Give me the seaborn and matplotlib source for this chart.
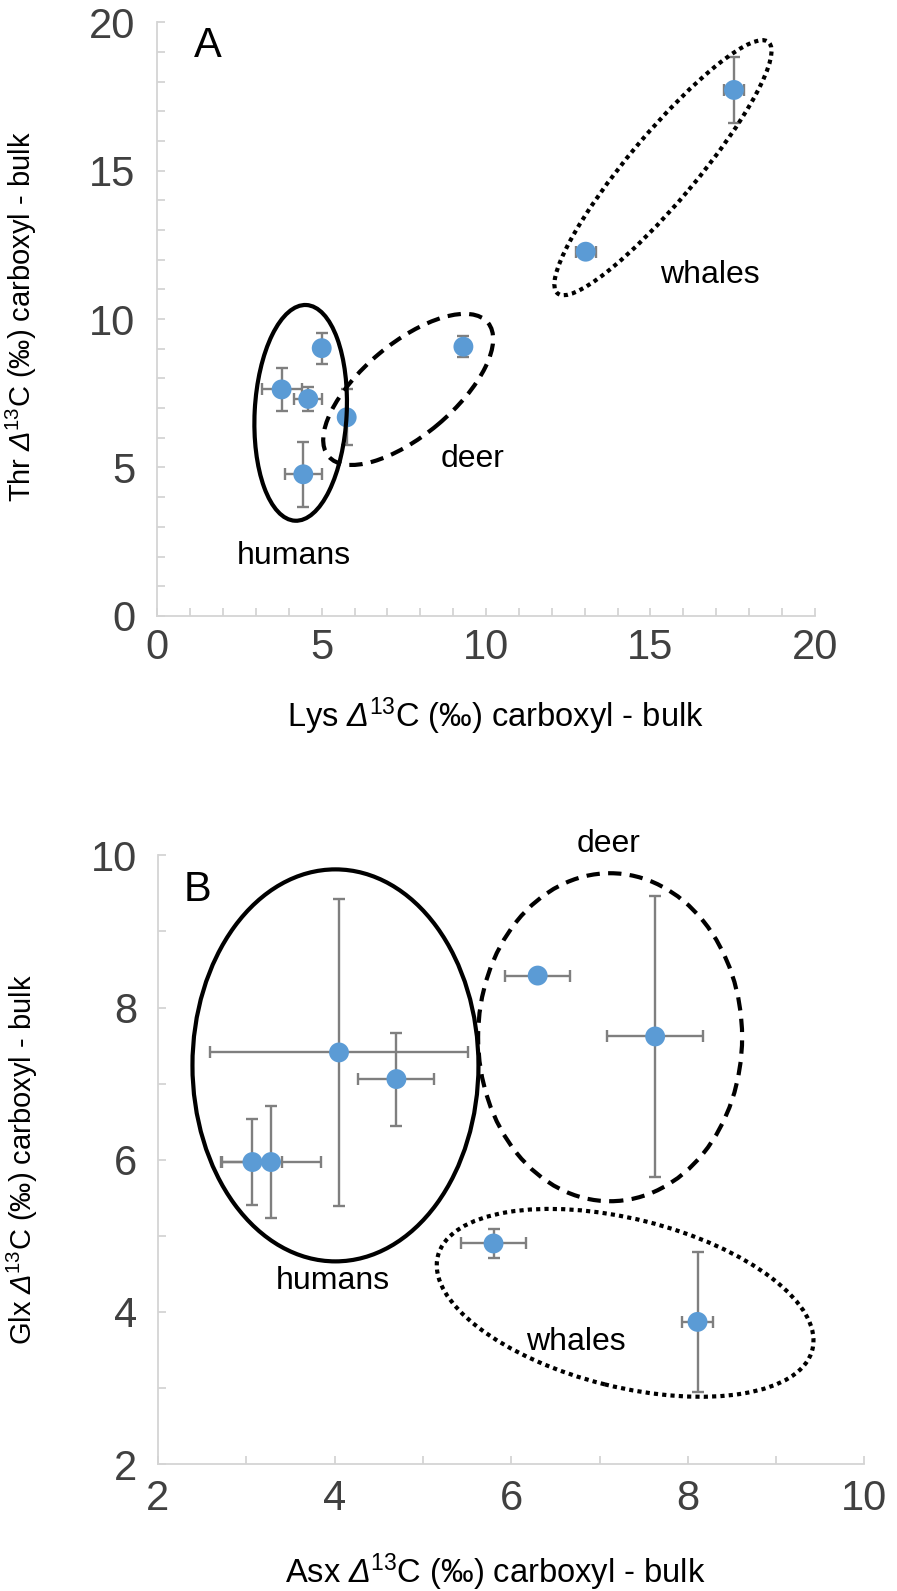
import numpy as np
import pandas as pd
import matplotlib
matplotlib.use("Agg")
import matplotlib.pyplot as plt
import seaborn as sns
from matplotlib.patches import Ellipse
from matplotlib.transforms import ScaledTranslation

# ---- Panel A: Lys vs Thr (carboxyl - bulk, permil) ----
a_group = ["humans", "humans", "humans", "humans", "deer", "deer", "whales", "whales"]
a_lys = [3.78, 4.59, 5.00, 4.44, 5.76, 9.31, 13.03, 17.54]
a_thr = [7.63, 7.31, 9.02, 4.77, 6.69, 9.07, 12.27, 17.72]
a_lys_err = [0.61, 0.42, 0.0, 0.56, 0.0, 0.0, 0.30, 0.30]
a_thr_err = [0.72, 0.40, 0.52, 1.10, 0.94, 0.36, 0.0, 1.10]

# ---- Panel B: Asx vs Glx (carboxyl - bulk, permil) ----
b_group = ["humans", "humans", "humans", "humans", "deer", "deer", "whales", "whales"]
b_asx = [4.05, 4.70, 3.07, 3.28, 6.30, 7.63, 5.80, 8.11]
b_glx = [7.41, 7.06, 5.97, 5.97, 8.42, 7.62, 4.90, 3.87]
b_asx_err = [1.46, 0.43, 0.34, 0.57, 0.37, 0.54, 0.37, 0.18]
b_glx_err = [2.02, 0.61, 0.56, 0.73, 0.0, 1.84, 0.19, 0.92]

df_a = pd.DataFrame({"group": a_group, "x": a_lys, "y": a_thr,
                     "xerr": a_lys_err, "yerr": a_thr_err})
df_b = pd.DataFrame({"group": b_group, "x": b_asx, "y": b_glx,
                     "xerr": b_asx_err, "yerr": b_glx_err})

sns.set_theme(style="ticks")
plt.rcParams["font.family"] = ["Liberation Sans", "DejaVu Sans"]
plt.rcParams["mathtext.fontset"] = "custom"
plt.rcParams["mathtext.rm"] = "Liberation Sans"
plt.rcParams["mathtext.it"] = "Liberation Sans:italic"
# slanted capital delta in the axis titles
plt.rcParams["mathtext.sf"] = "Liberation Sans:italic"
plt.rcParams["text.color"] = "black"
plt.rcParams["axes.labelcolor"] = "black"

DPI = 100
fig = plt.figure(figsize=(8.97, 15.91), dpi=DPI)
ax_a = fig.add_axes([0.1754, 0.6129, 0.7330, 0.3731])
ax_b = fig.add_axes([0.1761, 0.0797, 0.7876, 0.3827])

POINT = "#5b9bd5"
ERR = "#7f7f7f"
AXIS = "#d4d4d4"
TICKTXT = "#404040"
TICK_FS = 30
XLABEL_FS = 23.5
YLABEL_FS = 21
NOTE_FS = 23


def group_ring(ax, cx, cy, half_w_px, half_h_px, angle, ls):
    """Outline drawn around a group, sized in pixels and centred in data units."""
    tr = fig.dpi_scale_trans + ScaledTranslation(cx, cy, ax.transData)
    ring = Ellipse((0, 0), 2 * half_w_px / DPI, 2 * half_h_px / DPI, angle=angle,
                   transform=tr, fill=False, ec="black", lw=3.0, ls=ls,
                   clip_on=False, zorder=4)
    ax.add_patch(ring)


def style_axes(ax, xlim, ylim, xmajor, ymajor):
    ax.set_xlim(*xlim)
    ax.set_ylim(*ylim)
    ax.set_xticks(xmajor)
    ax.set_yticks(ymajor)
    ax.set_xticks(np.arange(xlim[0], xlim[1] + 1, 1), minor=True)
    ax.set_yticks(np.arange(ylim[0], ylim[1] + 1, 1), minor=True)
    for side in ("top", "right"):
        ax.spines[side].set_visible(False)
    for side in ("left", "bottom"):
        ax.spines[side].set_color(AXIS)
        ax.spines[side].set_linewidth(1.3)
    ax.tick_params(which="both", direction="in", length=6, width=1.3, color=AXIS)
    ax.tick_params(axis="both", which="major", labelsize=TICK_FS, labelcolor=TICKTXT)
    ax.set_facecolor("white")


def draw_points(ax, df):
    ax.errorbar(df["x"], df["y"], xerr=df["xerr"], yerr=df["yerr"], fmt="none",
                ecolor=ERR, elinewidth=1.7, capsize=4.5, capthick=1.7, zorder=2)
    sns.scatterplot(data=df, x="x", y="y", ax=ax, color=POINT, s=205,
                    edgecolor="none", linewidth=0, zorder=3, legend=False)


def axis_titles(ax, xtext, ytext, xpos, ypos):
    ax.set_xlabel(xtext, fontsize=XLABEL_FS)
    ax.set_ylabel(ytext, fontsize=YLABEL_FS)
    ax.xaxis.set_label_coords(*xpos)
    ax.yaxis.set_label_coords(*ypos)
    ax.xaxis.label.set_va("center")
    ax.yaxis.label.set_va("center")


# Panel A
draw_points(ax_a, df_a)
style_axes(ax_a, (0, 20), (0, 20), np.arange(0, 21, 5), np.arange(0, 21, 5))
ax_a.tick_params(axis="x", which="major", pad=8.5)
ax_a.tick_params(axis="y", which="major", pad=16)
group_ring(ax_a, 4.36, 6.84, 108, 46, 87, "-")
group_ring(ax_a, 7.63, 7.63, 104, 46, 40, (0, (3.2, 2.0)))
group_ring(ax_a, 15.38, 15.10, 164, 34, 50, (0, (1, 1)))
ax_a.text(1.54, 19.19, "A", fontsize=TICK_FS, ha="center", va="center")
ax_a.text(4.16, 2.02, "humans", fontsize=NOTE_FS, ha="center", va="center")
ax_a.text(9.6, 5.28, "deer", fontsize=NOTE_FS, ha="center", va="center")
ax_a.text(16.8, 11.48, "whales", fontsize=NOTE_FS, ha="center", va="center")
axis_titles(ax_a,
            r"Lys $\mathsf{Δ}^{13}$C (‰) carboxyl - bulk",
            r"Thr $\mathsf{Δ}^{13}$C (‰) carboxyl - bulk",
            (0.514, -0.169), (-0.206, 0.504))

# Panel B
draw_points(ax_b, df_b)
style_axes(ax_b, (2, 10), (2, 10), np.arange(2, 11, 2), np.arange(2, 11, 2))
ax_b.tick_params(axis="x", which="major", pad=10.7)
ax_b.tick_params(axis="y", which="major", pad=15)
group_ring(ax_b, 4.01, 7.24, 143, 196, 0, "-")
group_ring(ax_b, 7.12, 7.61, 132, 164, 0, (0, (3.2, 2.0)))
group_ring(ax_b, 7.29, 4.12, 193, 84, -14, (0, (1, 1)))
ax_b.text(2.45, 9.55, "B", fontsize=TICK_FS, ha="center", va="center")
ax_b.text(3.98, 4.41, "humans", fontsize=NOTE_FS, ha="center", va="center")
ax_b.text(7.10, 10.15, "deer", fontsize=NOTE_FS, ha="center", va="center", clip_on=False)
ax_b.text(6.73, 3.60, "whales", fontsize=NOTE_FS, ha="center", va="center")
axis_titles(ax_b,
            r"Asx $\mathsf{Δ}^{13}$C (‰) carboxyl - bulk",
            r"Glx $\mathsf{Δ}^{13}$C (‰) carboxyl - bulk",
            (0.477, -0.177), (-0.1925, 0.5))

fig.savefig("out.png", dpi=DPI, facecolor="white")
